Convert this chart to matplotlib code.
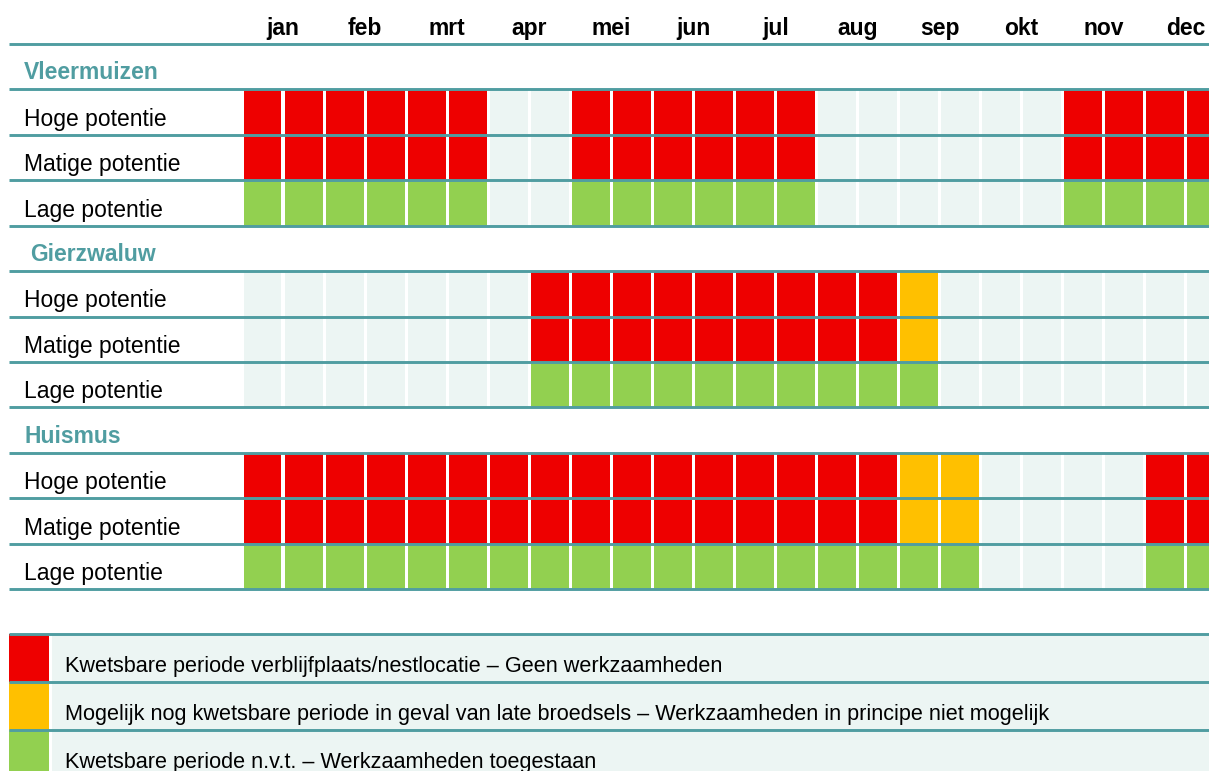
import numpy as np
import matplotlib
matplotlib.use('Agg')
import matplotlib.pyplot as plt

plt.rcParams['font.family'] = ['Liberation Sans', 'DejaVu Sans']

# half-month columns (2 per month), codes: 0 = leeg, 1 = rood, 2 = oranje, 3 = groen
months = ['jan', 'feb', 'mrt', 'apr', 'mei', 'jun', 'jul', 'aug', 'sep', 'okt', 'nov', 'dec']
species = ['Vleermuizen', 'Gierzwaluw', 'Huismus']
row_labels = ['Hoge potentie', 'Matige potentie', 'Lage potentie']

vleermuizen_hoog = [1, 1, 1, 1, 1, 1, 0, 0, 1, 1, 1, 1, 1, 1, 0, 0, 0, 0, 0, 0, 1, 1, 1, 1]
vleermuizen_matig = [1, 1, 1, 1, 1, 1, 0, 0, 1, 1, 1, 1, 1, 1, 0, 0, 0, 0, 0, 0, 1, 1, 1, 1]
vleermuizen_laag = [3, 3, 3, 3, 3, 3, 0, 0, 3, 3, 3, 3, 3, 3, 0, 0, 0, 0, 0, 0, 3, 3, 3, 3]

gierzwaluw_hoog = [0, 0, 0, 0, 0, 0, 0, 1, 1, 1, 1, 1, 1, 1, 1, 1, 2, 0, 0, 0, 0, 0, 0, 0]
gierzwaluw_matig = [0, 0, 0, 0, 0, 0, 0, 1, 1, 1, 1, 1, 1, 1, 1, 1, 2, 0, 0, 0, 0, 0, 0, 0]
gierzwaluw_laag = [0, 0, 0, 0, 0, 0, 0, 3, 3, 3, 3, 3, 3, 3, 3, 3, 3, 0, 0, 0, 0, 0, 0, 0]

huismus_hoog = [1, 1, 1, 1, 1, 1, 1, 1, 1, 1, 1, 1, 1, 1, 1, 1, 2, 2, 0, 0, 0, 0, 1, 1]
huismus_matig = [1, 1, 1, 1, 1, 1, 1, 1, 1, 1, 1, 1, 1, 1, 1, 1, 2, 2, 0, 0, 0, 0, 1, 1]
huismus_laag = [3, 3, 3, 3, 3, 3, 3, 3, 3, 3, 3, 3, 3, 3, 3, 3, 3, 3, 0, 0, 0, 0, 3, 3]

legend_codes = [1, 2, 3]
legend_labels = [
    'Kwetsbare periode verblijfplaats/nestlocatie \u2013 Geen werkzaamheden',
    'Mogelijk nog kwetsbare periode in geval van late broedsels \u2013 Werkzaamheden in principe niet mogelijk',
    'Kwetsbare periode n.v.t. \u2013 Werkzaamheden toegestaan',
]

grid = [
    [vleermuizen_hoog, vleermuizen_matig, vleermuizen_laag],
    [gierzwaluw_hoog, gierzwaluw_matig, gierzwaluw_laag],
    [huismus_hoog, huismus_matig, huismus_laag],
]

# colours
code_colors = {0: '#ECF5F3', 1: '#EE0000', 2: '#FFC000', 3: '#92D050'}
teal = '#509DA1'

# layout (x in column units, y in row units)
COL_PX, ROW_PX = 41.04, 45.42
X0_PX, Y0_PX = 243.5, 44
W_PX, H_PX = 1209, 771
GAP = 0.075


def px_x(p):
    return (p - X0_PX) / COL_PX


LINE_X0 = px_x(9)
TEXT_X = px_x(24)
LEG_TOP = 12.99
LEG_H = 1.057
SW_X0, SW_X1 = px_x(9), px_x(49)
FILL_X0 = px_x(52)
LEG_TEXT_X = px_x(65)
FS = 16.5

fig = plt.figure(figsize=(W_PX / 100, H_PX / 100), dpi=100)
ax = fig.add_axes([0, 0, 1, 1])
ax.set_xlim(px_x(0), px_x(W_PX))
ax.set_ylim((H_PX - Y0_PX) / ROW_PX, -Y0_PX / ROW_PX)
ax.axis('off')

cols = np.arange(24)

# month headers
for m, name in enumerate(months):
    ax.text(2 * m + 1 - GAP / 2, -0.2, name, ha='center', va='baseline',
            fontsize=FS, fontweight='bold', color='black')

for s, name in enumerate(species):
    title_bottom = 4 * s + 1
    tx = px_x(30) if name == 'Gierzwaluw' else TEXT_X
    ax.text(tx, title_bottom - 0.22, name, ha='left', va='baseline',
            fontsize=FS, fontweight='bold', color=teal)
    for k, codes in enumerate(grid[s]):
        top = title_bottom + k
        ax.bar(cols, 1, bottom=top, width=1 - GAP, align='edge',
               color=[code_colors[c] for c in codes], linewidth=0, zorder=1)
        ax.text(TEXT_X, top + 1 - 0.2, row_labels[k], ha='left', va='baseline',
                fontsize=FS, color='black')

ax.hlines(np.arange(13), LINE_X0, 25, color=teal, linewidth=2.1, zorder=3)

# legend block
for k, (code, label) in enumerate(zip(legend_codes, legend_labels)):
    top = LEG_TOP + k * LEG_H
    ax.bar(SW_X0, LEG_H, bottom=top, width=SW_X1 - SW_X0, align='edge',
           color=code_colors[code], linewidth=0, zorder=1)
    ax.bar(FILL_X0, LEG_H, bottom=top, width=25 - FILL_X0, align='edge',
           color=code_colors[0], linewidth=0, zorder=1)
    ax.text(LEG_TEXT_X, top + LEG_H - 0.22, label, ha='left', va='baseline',
            fontsize=15.6, color='black')

ax.hlines(LEG_TOP + np.arange(4) * LEG_H, LINE_X0, 25, color=teal, linewidth=2.1, zorder=3)

fig.savefig('out.png', dpi=100)
